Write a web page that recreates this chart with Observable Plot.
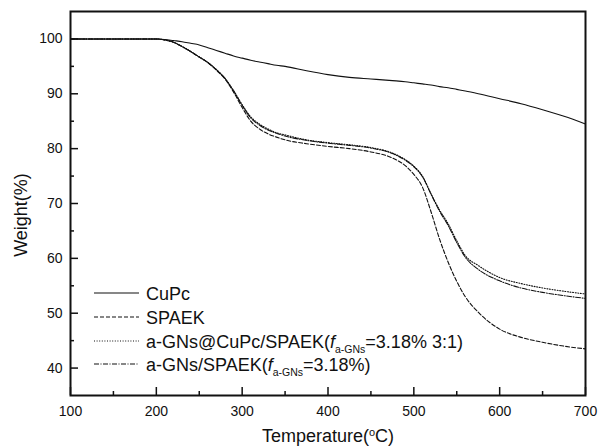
<!DOCTYPE html>
<html><head><meta charset="utf-8">
<script src="https://cdn.jsdelivr.net/npm/d3@7"></script>
<script src="https://cdn.jsdelivr.net/npm/@observablehq/plot@0.6"></script>
<style>
body{margin:0;background:#fff;}
#chart svg{font-family:"Liberation Sans",Arial,sans-serif;}
</style>
</head><body><div id="chart"></div>
<script>
const temps = [100,150,200,210,220,230,240,250,260,270,280,290,300,310,320,330,340,350,375,400,425,450,475,490,500,510,520,530,540,550,560,575,600,625,650,675,700];
const cupc = [100,100,100,99.9,99.7,99.5,99.2,98.9,98.4,97.9,97.4,96.9,96.5,96.1,95.8,95.5,95.2,95.0,94.2,93.5,93.0,92.7,92.4,92.2,92.0,91.8,91.6,91.3,91.1,90.8,90.5,90.0,89.1,88.2,87.1,85.9,84.5];
const spaek = [100,100,100,99.8,99.4,98.6,97.7,96.7,95.7,94.3,92.7,90.3,87.5,85.0,83.6,82.7,82.1,81.6,80.9,80.4,80.0,79.4,78.3,76.9,75.3,73.0,68.5,63.5,59.3,55.8,53.0,50.2,47.1,45.6,44.7,44.0,43.5];
const agnsCupc = [100,100,100,99.8,99.4,98.6,97.7,96.7,95.7,94.4,92.8,90.6,88.0,85.8,84.5,83.6,82.9,82.5,81.6,81.1,80.7,80.2,79.2,78.0,76.8,75.0,71.8,68.8,66.3,63.2,60.5,58.7,56.5,55.4,54.6,54.0,53.5];
const agns = [100,100,100,99.8,99.4,98.6,97.7,96.7,95.7,94.4,92.8,90.5,87.9,85.6,84.3,83.4,82.8,82.3,81.5,81.0,80.6,80.1,79.1,77.9,76.7,74.9,71.7,68.6,66.0,62.9,60.2,58.0,55.9,54.6,53.8,53.2,52.7];
const xTicks = [100,200,300,400,500,600,700];
const xMinor = [150,250,350,450,550,650];
const yTicks = [40,50,60,70,80,90,100];
const yMinor = [45,55,65,75,85,95];

const seriesDefs = [
  {name:"CuPc", values:cupc, dash:null},
  {name:"SPAEK", values:spaek, dash:"4,2"},
  {name:"a-GNs@CuPc/SPAEK", values:agnsCupc, dash:"1,1.6"},
  {name:"a-GNs/SPAEK", values:agns, dash:"5,1.5,1,1.5"}
];
const rows = (vals) => temps.map((t,i)=>({t, w: vals[i]}));

const marks = [];
for (const s of seriesDefs) {
  marks.push(Plot.line(rows(s.values), {x:"t", y:"w", curve:"monotone-x", stroke:"#111", strokeWidth:1.1, strokeDasharray: s.dash}));
}
marks.push(Plot.frame({stroke:"#111", strokeWidth:2}));
marks.push(Plot.axisX({ticks:xTicks, tickSize:-8, tickPadding:19, fontSize:14, label:null, strokeWidth:1.5}));
marks.push(Plot.axisX({ticks:xMinor, tickSize:-4, tickFormat:()=>"", label:null, strokeWidth:1.5}));
marks.push(Plot.axisY({ticks:yTicks, tickSize:-8, tickPadding:16, fontSize:14, label:null, strokeWidth:1.5}));
marks.push(Plot.axisY({ticks:yMinor, tickSize:-4, tickFormat:()=>"", label:null, strokeWidth:1.5}));

const chart = Plot.plot({
  width:598, height:448,
  marginLeft:70, marginRight:13, marginTop:11, marginBottom:53,
  style:{fontFamily:'"Liberation Sans",Arial,sans-serif', color:"#111", background:"#fff"},
  x:{domain:[100,700]},
  y:{domain:[35,105]},
  marks
});
document.getElementById("chart").appendChild(chart);

const svg = d3.select(chart);
// axis titles
svg.append("text").attr("x", 328).attr("y", 442).attr("text-anchor","middle")
  .attr("font-size",18).attr("fill","#111")
  .html('Temperature(<tspan baseline-shift="super" font-size="11">o</tspan>C)');
svg.append("text").attr("transform","translate(27,215) rotate(-90)").attr("text-anchor","middle")
  .attr("font-size",18).attr("fill","#111").text("Weight(%)");

// legend
const legY = [293, 317, 341, 364];
const legLabels = [
  'CuPc',
  'SPAEK',
  'a-GNs@CuPc/SPAEK(<tspan font-style="italic">f</tspan><tspan font-size="10.5" dy="5">a-GNs</tspan><tspan dy="-5">=3.18% 3:1)</tspan>',
  'a-GNs/SPAEK(<tspan font-style="italic">f</tspan><tspan font-size="10.5" dy="5">a-GNs</tspan><tspan dy="-5">=3.18%)</tspan>'
];
seriesDefs.forEach((s,i)=>{
  svg.append("line").attr("x1",94).attr("x2",139).attr("y1",legY[i]).attr("y2",legY[i])
    .attr("stroke","#111").attr("stroke-width",1.1).attr("stroke-dasharray", s.dash);
  svg.append("text").attr("x",146).attr("y",legY[i]+6.5).attr("font-size",18).attr("fill","#111")
    .attr("text-anchor","start").html(legLabels[i]);
});
</script>
</body></html>
